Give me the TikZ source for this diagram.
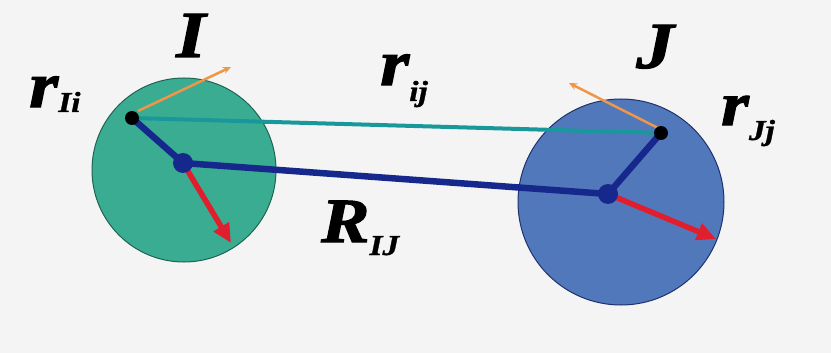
\documentclass[tikz,border=0pt]{standalone}
\usepackage{fontspec}
\setmainfont{Liberation Serif}
\usetikzlibrary{arrows.meta}
\definecolor{bg}{RGB}{244,244,244}
\definecolor{greenball}{RGB}{58,172,146}
\definecolor{greenedge}{RGB}{30,100,80}
\definecolor{blueball}{RGB}{82,120,188}
\definecolor{blueedge}{RGB}{30,50,110}
\definecolor{darkblue}{RGB}{22,40,140}
\definecolor{tealline}{RGB}{25,152,155}
\definecolor{orangearr}{RGB}{240,150,70}
\definecolor{redarr}{RGB}{225,30,45}
\newcommand\fbold[2]{\special{pdf:literal direct 2 Tr #1 w}#2\special{pdf:literal direct 0 Tr}}
\newcommand\mytxt[3]{\scalebox{1.15}[1]{\fbold{#3}{\fontsize{#1}{#1}\selectfont\bfseries\itshape #2}}}
\newcommand\mylbl[4]{\mytxt{#1}{#2}{1.0}\raisebox{-#4pt}{\mytxt{29}{#3}{0.3}}}
\begin{document}
\begin{tikzpicture}[x=1pt,y=-1pt,
  ball/.style={circle,inner sep=0pt,line width=1pt},
  bond/.style={draw=darkblue,line width=6.5pt,line cap=round},
  vec/.style={draw=tealline,line width=4pt},
  force/.style={draw=redarr,line width=5.5pt,-{Triangle[length=19pt,width=17pt]}},
  vel/.style={draw=orangearr,line width=2.5pt,-{Stealth[length=8pt,width=7pt]}},
  atomdot/.style={circle,fill=black,inner sep=0pt,minimum size=14pt},
  comdot/.style={circle,fill=darkblue,inner sep=0pt,minimum size=20pt},
  lbl/.style={inner sep=0pt,anchor=base west}]
\fill[bg] (0,0) rectangle (831,353);
\useasboundingbox (0,0) rectangle (831,353);
\node[ball,fill=greenball,draw=greenedge,minimum size=184pt] (ballI) at (184,170) {};
\node[ball,fill=blueball,draw=blueedge,minimum size=206pt] (ballJ) at (621,202) {};
\coordinate (ia) at (132,118);
\coordinate (Ic) at (183,163);
\coordinate (ja) at (661,133);
\coordinate (Jc) at (608,194);
\coordinate (Ifor) at (231,243);
\coordinate (Jfor) at (716,239);
\coordinate (ivs) at (138,111);
\coordinate (ive) at (231,67);
\coordinate (jvs) at (660,129);
\coordinate (jve) at (569,83);
\draw[vec] (ia) -- (ja);
\draw[bond] (Ic) -- (Jc);
\draw[bond] (ia) -- (Ic);
\draw[bond] (Jc) -- (ja);
\draw[force] (Ic) -- (Ifor);
\draw[force] (Jc) -- (Jfor);
\draw[vel] (ivs) -- (ive);
\draw[vel] (jvs) -- (jve);
\node[atomdot] (dia) at (ia) {};
\node[atomdot] (dja) at (ja) {};
\node[comdot] (dIc) at (Ic) {};
\node[comdot] (dJc) at (Jc) {};
\node[lbl] (lI) at (176,57) {\mytxt{66}{I}{1.0}};
\node[lbl] (lJ) at (636,68) {\mytxt{66}{J}{1.0}};
\node[lbl] (lrIi) at (29,107) {\mylbl{65}{r}{Ii}{5}};
\node[lbl] (lrij) at (380,85) {\mylbl{65}{r}{ij}{16}};
\node[lbl] (lrJj) at (721,125) {\mylbl{62}{r}{Jj}{15}};
\node[lbl] (lRIJ) at (321,242) {\mylbl{63}{R}{IJ}{13}};
\end{tikzpicture}
\end{document}
